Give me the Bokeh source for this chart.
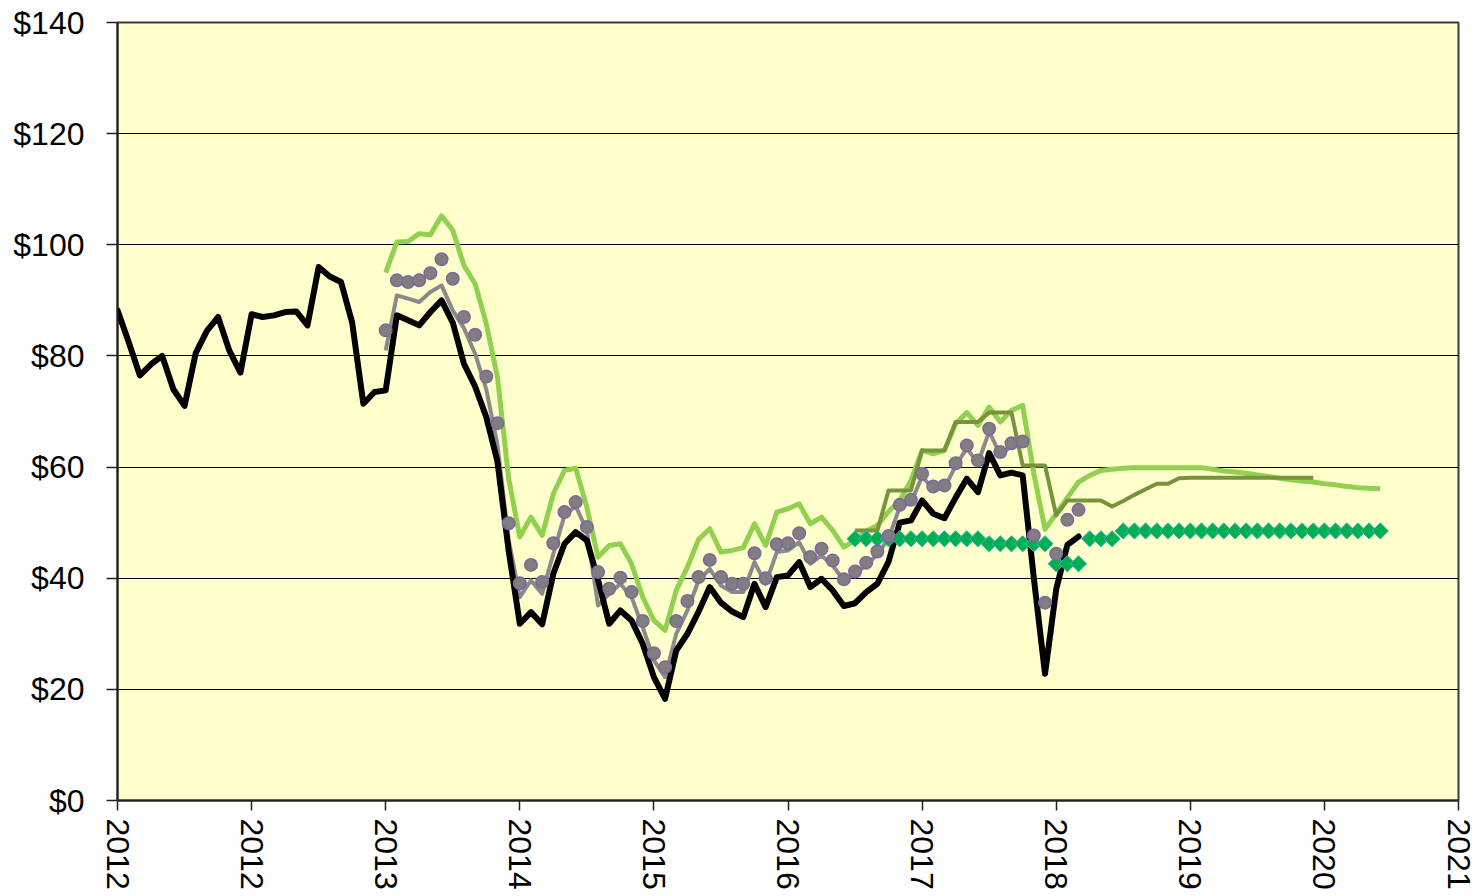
import numpy as np
from bokeh.plotting import figure
from bokeh.models import FixedTicker, NumeralTickFormatter, Range1d
from bokeh.embed import file_html
from bokeh.resources import INLINE

# x axis: months since Jan 2012 (ticks every 12 months, labels as in reference)
tick_months = [0, 12, 24, 36, 48, 60, 72, 84, 96, 108, 120]
tick_labels = ["2012", "2012", "2013", "2014", "2015", "2016", "2017",
               "2018", "2019", "2020", "2021"]
y_ticks = [0, 20, 40, 60, 80, 100, 120, 140]

# Black series (smoothed line), months 0..86
black_start = 0
black_vals = [88.2, 82.5, 76.5, 78.5, 80.0, 74.0, 71.0, 80.5, 84.5, 87.0,
              81.0, 77.0, 87.5, 87.0, 87.3, 87.9, 88.0, 85.5, 96.0, 94.3,
              93.3, 86.0, 71.4, 73.5, 73.8, 87.3, 86.4, 85.5, 87.9, 90.0,
              86.0, 78.6, 74.5, 69.0, 61.0, 45.0, 31.8, 33.9, 31.7, 40.8,
              46.2, 48.3, 46.8, 39.7, 31.8, 34.2, 32.4, 28.2, 22.2, 18.3,
              27.0, 30.0, 34.0, 38.4, 35.6, 34.0, 33.0, 39.0, 34.8, 40.2,
              40.5, 42.9, 38.4, 39.9, 37.8, 35.0, 35.5, 37.5, 39.0, 43.0,
              50.0, 50.4, 54.0, 51.6, 50.8, 54.5, 57.9, 55.5, 62.5, 58.5,
              59.0, 58.5, 40.0, 22.8, 38.0, 46.0, 47.5]

# Gray line series, months 24..81
gray_start = 24
gray_vals = [81.0, 90.9, 90.3, 89.7, 91.5, 92.7, 88.2, 85.0, 80.4, 74.0,
             64.0, 47.0, 36.6, 39.6, 37.2, 44.4, 51.3, 53.0, 48.6, 35.1,
             37.2, 39.0, 36.6, 31.2, 25.2, 22.2, 30.0, 34.2, 39.6, 41.7,
             38.7, 37.5, 37.5, 42.9, 39.0, 44.7, 45.0, 46.5, 42.6, 44.1,
             42.3, 39.6, 40.8, 42.3, 44.3, 47.2, 52.8, 53.6, 58.3, 56.0,
             56.2, 60.2, 63.4, 60.7, 66.4, 62.2, 63.8, 64.1]

# Dotted series (gray circles, purple edge), months 24..86
dots_start = 24
dots_vals = [84.6, 93.6, 93.3, 93.6, 94.9, 97.4, 93.9, 87.0, 83.8, 76.3,
             67.9, 49.9, 39.1, 42.4, 39.3, 46.3, 51.9, 53.7, 49.2, 41.1,
             38.1, 40.1, 37.5, 32.3, 26.5, 24.0, 32.3, 35.9, 40.2, 43.3,
             40.2, 39.0, 39.0, 44.5, 40.0, 46.1, 46.3, 48.1, 43.8, 45.3,
             43.2, 39.8, 41.2, 42.8, 44.8, 47.6, 53.2, 54.1, 58.8, 56.5,
             56.7, 60.7, 63.9, 61.2, 66.9, 62.7, 64.3, 64.6, 47.7, 35.6,
             44.4, 50.5, 52.3]

# Light green series, months 24..113
lgreen_start = 24
lgreen_vals = [95.0, 100.5, 100.6, 102.0, 101.8, 105.2, 102.6, 96.3, 93.0, 85.8,
               76.2, 58.0, 47.4, 51.0, 47.7, 55.2, 59.4, 59.8, 52.8, 43.8,
               45.9, 46.2, 42.6, 36.6, 32.4, 30.6, 37.8, 42.0, 47.0, 48.9,
               44.7, 45.0, 45.5, 49.8, 45.9, 51.9, 52.5, 53.4, 49.8, 51.0,
               48.6, 45.6, 46.8, 48.5, 49.5, 52.0, 54.0, 57.6, 63.0, 62.4,
               63.0, 67.8, 69.8, 67.5, 70.8, 68.1, 70.2, 71.1, 58.8, 48.8,
               51.6, 54.5, 57.3, 58.5, 59.4, 59.6, 59.8, 59.9, 59.9, 59.9,
               59.9, 59.9, 59.9, 59.9, 59.6, 59.3, 59.1, 58.9, 58.6, 58.3,
               58.0, 57.7, 57.5, 57.3, 57.0, 56.8, 56.5, 56.3, 56.2, 56.1]

# Olive (step-like) series, months 66..107
olive_start = 66
olive_vals = [48.6, 48.6, 48.6, 55.8, 55.8, 55.8, 63.0, 63.0, 63.0, 68.1,
              68.1, 68.1, 69.8, 69.8, 69.8, 60.3, 60.3, 60.3, 51.3, 54.0,
              54.0, 54.0, 54.0, 52.9, 53.9, 55.0, 56.0, 57.0, 57.0, 58.0,
              58.1, 58.1, 58.1, 58.1, 58.1, 58.1, 58.1, 58.1, 58.1, 58.1,
              58.1, 58.1]

# Diamond series, months 66..113
diam_start = 66
diam_vals = [47.1] * 12 + [46.2] * 6 + [42.6] * 3 + [47.1] * 3 + [48.5] * 24


def months(start, vals):
    return list(range(start, start + len(vals)))


p = figure(frame_width=1341, frame_height=778,
           x_range=Range1d(0, 120), y_range=Range1d(0, 140),
           output_backend="svg", toolbar_location=None,
           min_border_left=117, min_border_top=22,
           min_border_right=18, min_border_bottom=60)

p.background_fill_color = "#FFFFCC"
p.border_fill_color = "white"
p.outline_line_color = "#3c3c3c"
p.outline_line_width = 2

p.xgrid.visible = False
p.ygrid.grid_line_color = "black"
p.ygrid.grid_line_width = 1.2

p.yaxis.ticker = FixedTicker(ticks=y_ticks)
p.yaxis.formatter = NumeralTickFormatter(format="$0")
p.xaxis.ticker = FixedTicker(ticks=tick_months)
p.xaxis.major_label_overrides = {m: lab for m, lab in zip(tick_months, tick_labels)}
p.xaxis.major_label_orientation = "vertical"

for ax in (p.xaxis, p.yaxis):
    ax.axis_line_color = "#222222"
    ax.axis_line_width = 2
    ax.major_tick_line_color = "#222222"
    ax.major_tick_line_width = 1.5
    ax.major_tick_in = 0
    ax.minor_tick_line_color = None
    ax.major_label_text_font = "Liberation Sans"
    ax.major_label_text_font_size = "32px"
    ax.major_label_text_color = "black"

p.yaxis.major_tick_out = 11
p.yaxis.major_label_standoff = 22
p.xaxis.major_tick_out = 10
p.xaxis.major_label_standoff = 8

p.line(months(lgreen_start, lgreen_vals), lgreen_vals, line_color="#92D050",
       line_width=5, line_join="round")
p.line(months(olive_start, olive_vals), olive_vals, line_color="#77933C",
       line_width=4, line_join="round")
p.line(months(gray_start, gray_vals), gray_vals, line_color="#8A8A8A",
       line_width=4, line_join="round")
p.line(months(black_start, black_vals), black_vals, line_color="black",
       line_width=6, line_join="round", line_cap="round")
p.scatter(months(diam_start, diam_vals), diam_vals, marker="square", angle=np.pi / 4,
          size=11.5, fill_color="#00B050", line_color="#4BACC6", line_width=1)
p.scatter(months(dots_start, dots_vals), dots_vals, marker="circle", size=12.5,
          fill_color="#7F7F7F", line_color="#8064A2", line_width=1.5)

open("out.html", "w").write(file_html(p, INLINE))
